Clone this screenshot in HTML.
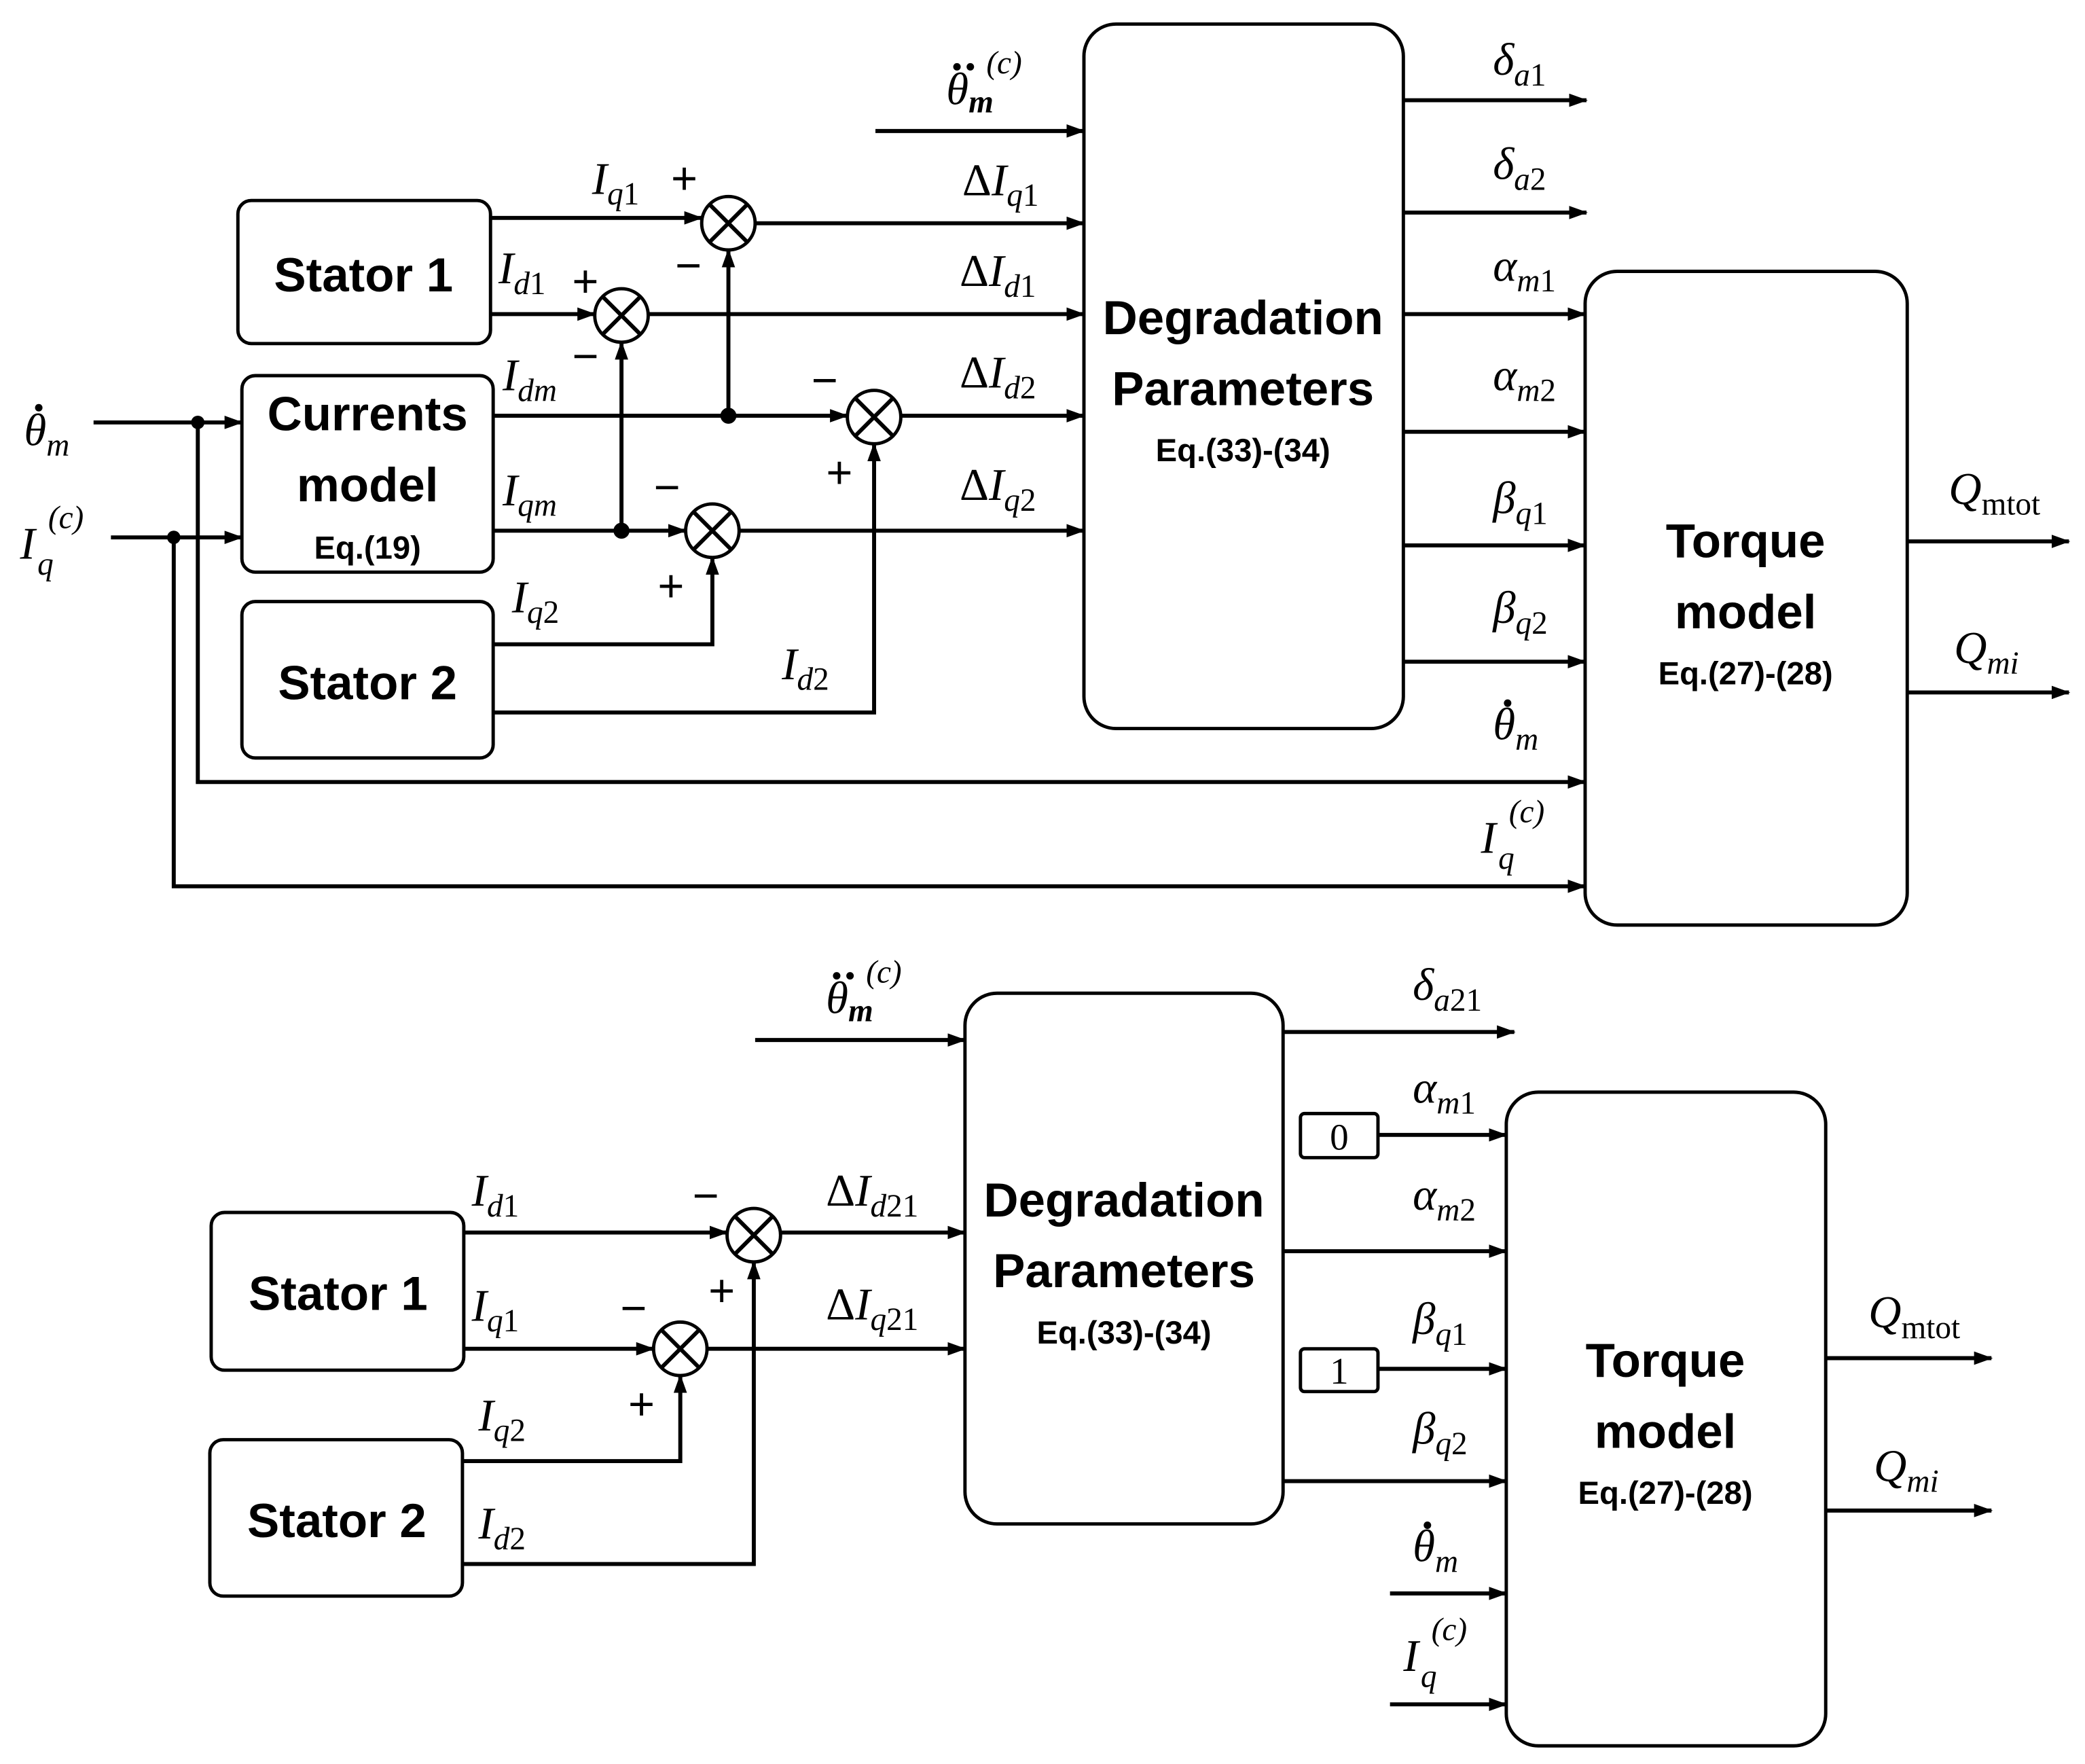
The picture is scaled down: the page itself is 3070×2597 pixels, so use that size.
<!DOCTYPE html>
<html><head><meta charset="utf-8"><style>
html,body{margin:0;padding:0;background:#fff}
svg{display:block}
.m{font-family:"Liberation Serif","DejaVu Serif",serif;font-style:italic;font-size:34px;fill:#000}
.s{font-size:24px}
.u{font-style:normal}
.b{font-family:"Liberation Sans","DejaVu Sans",sans-serif;font-weight:bold;font-size:36px;fill:#000;text-anchor:middle}
.e{font-family:"Liberation Sans","DejaVu Sans",sans-serif;font-weight:bold;font-size:24px;fill:#000;text-anchor:middle}
.g{font-family:"Liberation Sans","DejaVu Sans",sans-serif;font-size:34px;fill:#000;text-anchor:middle}
.n{font-family:"Liberation Serif",serif;font-size:28px;fill:#000;text-anchor:middle}
line,polyline,path{stroke:#000;stroke-width:3;fill:none}
rect{fill:#fff;stroke:#000;stroke-width:2.5}
circle{fill:#fff;stroke:#000;stroke-width:2.5}
circle.d{fill:#000;stroke:none}
</style></head><body>
<svg width="3070" height="2597" viewBox="0 0 1560 1319.6" preserveAspectRatio="none" xmlns="http://www.w3.org/2000/svg">
<defs><marker id="a" markerWidth="14" markerHeight="10" refX="13" refY="5" orient="auto" markerUnits="userSpaceOnUse"><path d="M0,0 L14,5 L0,10 z" style="fill:#000;stroke:none"/></marker></defs>

<!-- TOP -->
<rect x="178" y="150" width="189" height="107" rx="10"/>
<text class="b" x="272" y="218">Stator 1</text>
<rect x="181" y="281" width="188" height="147" rx="10"/>
<text class="b" x="275" y="322">Currents</text>
<text class="b" x="275" y="375">model</text>
<text class="e" x="275" y="418">Eq.(19)</text>
<rect x="181" y="450" width="188" height="117" rx="10"/>
<text class="b" x="275" y="523">Stator 2</text>
<rect x="811" y="18" width="239" height="527" rx="24"/>
<text class="b" x="930" y="250">Degradation</text>
<text class="b" x="930" y="303">Parameters</text>
<text class="e" x="930" y="345">Eq.(33)-(34)</text>
<rect x="1186" y="203" width="241" height="489" rx="24"/>
<text class="b" x="1306" y="417">Torque</text>
<text class="b" x="1306" y="470">model</text>
<text class="e" x="1306" y="512">Eq.(27)-(28)</text>

<line x1="367" y1="163" x2="525" y2="163" marker-end="url(#a)"/>
<line x1="565" y1="167" x2="811" y2="167" marker-end="url(#a)"/>
<line x1="367" y1="235" x2="445" y2="235" marker-end="url(#a)"/>
<line x1="485" y1="235" x2="811" y2="235" marker-end="url(#a)"/>
<line x1="369" y1="311" x2="634" y2="311" marker-end="url(#a)"/>
<line x1="545" y1="311" x2="545" y2="187" marker-end="url(#a)"/>
<line x1="674" y1="311" x2="811" y2="311" marker-end="url(#a)"/>
<line x1="369" y1="397" x2="513" y2="397" marker-end="url(#a)"/>
<line x1="465" y1="397" x2="465" y2="256" marker-end="url(#a)"/>
<line x1="553" y1="397" x2="811" y2="397" marker-end="url(#a)"/>
<polyline points="369,482 533,482 533,417" marker-end="url(#a)"/>
<polyline points="369,533 654,533 654,332" marker-end="url(#a)"/>
<line x1="70" y1="316" x2="181" y2="316" marker-end="url(#a)"/>
<polyline points="148,316 148,585 1186,585" marker-end="url(#a)"/>
<line x1="83" y1="402" x2="181" y2="402" marker-end="url(#a)"/>
<polyline points="130,402 130,663 1186,663" marker-end="url(#a)"/>
<line x1="655" y1="98" x2="811" y2="98" marker-end="url(#a)"/>
<line x1="1050" y1="75" x2="1187" y2="75" marker-end="url(#a)"/>
<line x1="1050" y1="159" x2="1187" y2="159" marker-end="url(#a)"/>
<line x1="1050" y1="235" x2="1186" y2="235" marker-end="url(#a)"/>
<line x1="1050" y1="323" x2="1186" y2="323" marker-end="url(#a)"/>
<line x1="1050" y1="408" x2="1186" y2="408" marker-end="url(#a)"/>
<line x1="1050" y1="495" x2="1186" y2="495" marker-end="url(#a)"/>
<line x1="1427" y1="405" x2="1548" y2="405" marker-end="url(#a)"/>
<line x1="1427" y1="518" x2="1548" y2="518" marker-end="url(#a)"/>
<circle cx="148" cy="316" r="5" class="d"/>
<circle cx="130" cy="402" r="5" class="d"/>
<circle cx="545" cy="311" r="6" class="d"/>
<circle cx="465" cy="397" r="6" class="d"/>

<circle cx="545" cy="167" r="20"/><path d="M531,153 L559,181 M559,153 L531,181"/>
<circle cx="465" cy="236" r="20"/><path d="M451,222 L479,250 M479,222 L451,250"/>
<circle cx="654" cy="312" r="20"/><path d="M640,298 L668,326 M668,298 L640,326"/>
<circle cx="533" cy="397" r="20"/><path d="M519,383 L547,411 M547,383 L519,411"/>
<text class="g" x="512" y="145">+</text><text class="g" x="515" y="210">−</text>
<text class="g" x="438" y="222">+</text><text class="g" x="438" y="278">−</text>
<text class="g" x="617" y="296">−</text><text class="g" x="628" y="365">+</text>
<text class="g" x="499" y="376">−</text><text class="g" x="502" y="450">+</text>

<text class="m" x="443" y="145">I<tspan class="s" dy="8">q<tspan class="u">1</tspan></tspan></text>
<text class="m" x="373" y="212">I<tspan class="s" dy="8">d<tspan class="u">1</tspan></tspan></text>
<text class="m" x="376" y="292">I<tspan class="s" dy="8">dm</tspan></text>
<text class="m" x="376" y="378">I<tspan class="s" dy="8">qm</tspan></text>
<text class="m" x="383" y="458">I<tspan class="s" dy="8">q<tspan class="u">2</tspan></tspan></text>
<text class="m" x="585" y="508">I<tspan class="s" dy="8">d<tspan class="u">2</tspan></tspan></text>
<text class="m" x="720" y="146"><tspan class="u">Δ</tspan>I<tspan class="s" dy="8">q<tspan class="u">1</tspan></tspan></text>
<text class="m" x="718" y="214"><tspan class="u">Δ</tspan>I<tspan class="s" dy="8">d<tspan class="u">1</tspan></tspan></text>
<text class="m" x="718" y="290"><tspan class="u">Δ</tspan>I<tspan class="s" dy="8">d<tspan class="u">2</tspan></tspan></text>
<text class="m" x="718" y="374"><tspan class="u">Δ</tspan>I<tspan class="s" dy="8">q<tspan class="u">2</tspan></tspan></text>
<!-- theta ddot top -->
<text class="m" x="708" y="78">θ<tspan class="s" dy="6" style="font-weight:bold">m</tspan></text>
<circle class="d" cx="716" cy="50" r="2.8"/><circle class="d" cx="726" cy="50" r="2.8"/>
<text class="m s" x="738" y="55">(c)</text>
<text class="m" x="18" y="333">θ<tspan class="s" dy="8">m</tspan></text>
<circle class="d" cx="29" cy="305" r="2.8"/>
<text class="m" x="15" y="418">I</text><text class="m s" x="28" y="430">q</text><text class="m s" x="36" y="395">(c)</text>
<text class="m" x="1117" y="56">δ<tspan class="s" dy="8">a<tspan class="u">1</tspan></tspan></text>
<text class="m" x="1117" y="134">δ<tspan class="s" dy="8">a<tspan class="u">2</tspan></tspan></text>
<text class="m" x="1117" y="210">α<tspan class="s" dy="8">m<tspan class="u">1</tspan></tspan></text>
<text class="m" x="1117" y="292">α<tspan class="s" dy="8">m<tspan class="u">2</tspan></tspan></text>
<text class="m" x="1117" y="384">β<tspan class="s" dy="8">q<tspan class="u">1</tspan></tspan></text>
<text class="m" x="1117" y="466">β<tspan class="s" dy="8">q<tspan class="u">2</tspan></tspan></text>
<text class="m" x="1117" y="553">θ<tspan class="s" dy="8">m</tspan></text>
<circle class="d" cx="1128" cy="526" r="2.8"/>
<text class="m" x="1108" y="638">I</text><text class="m s" x="1121" y="650">q</text><text class="m s" x="1129" y="615">(c)</text>
<text class="m" x="1458" y="377">Q<tspan class="s u" dy="8">mtot</tspan></text>
<text class="m" x="1462" y="496">Q<tspan class="s" dy="8">mi</tspan></text>

<!-- BOTTOM -->
<rect x="158" y="907" width="189" height="118" rx="10"/>
<text class="b" x="253" y="980">Stator 1</text>
<rect x="157" y="1077" width="189" height="117" rx="10"/>
<text class="b" x="252" y="1150">Stator 2</text>
<rect x="722" y="743" width="238" height="397" rx="24"/>
<text class="b" x="841" y="910">Degradation</text>
<text class="b" x="841" y="963">Parameters</text>
<text class="e" x="841" y="1005">Eq.(33)-(34)</text>
<rect x="1127" y="817" width="239" height="489" rx="24"/>
<text class="b" x="1246" y="1030">Torque</text>
<text class="b" x="1246" y="1083">model</text>
<text class="e" x="1246" y="1125">Eq.(27)-(28)</text>

<line x1="347" y1="922" x2="544" y2="922" marker-end="url(#a)"/>
<line x1="584" y1="922" x2="722" y2="922" marker-end="url(#a)"/>
<line x1="347" y1="1009" x2="489" y2="1009" marker-end="url(#a)"/>
<line x1="529" y1="1009" x2="722" y2="1009" marker-end="url(#a)"/>
<polyline points="347,1093 509,1093 509,1029" marker-end="url(#a)"/>
<polyline points="347,1170 564,1170 564,944" marker-end="url(#a)"/>
<line x1="565" y1="778" x2="722" y2="778" marker-end="url(#a)"/>
<line x1="960" y1="772" x2="1133" y2="772" marker-end="url(#a)"/>
<rect x="973" y="833" width="58" height="33" rx="3"/>
<text class="n" x="1002" y="860">0</text>
<line x1="1031" y1="849" x2="1127" y2="849" marker-end="url(#a)"/>
<line x1="960" y1="936" x2="1127" y2="936" marker-end="url(#a)"/>
<rect x="973" y="1009" width="58" height="32" rx="3"/>
<text class="n" x="1002" y="1035">1</text>
<line x1="1031" y1="1024" x2="1127" y2="1024" marker-end="url(#a)"/>
<line x1="960" y1="1108" x2="1127" y2="1108" marker-end="url(#a)"/>
<line x1="1040" y1="1192" x2="1127" y2="1192" marker-end="url(#a)"/>
<line x1="1040" y1="1275" x2="1127" y2="1275" marker-end="url(#a)"/>
<line x1="1366" y1="1016" x2="1490" y2="1016" marker-end="url(#a)"/>
<line x1="1366" y1="1130" x2="1490" y2="1130" marker-end="url(#a)"/>

<circle cx="564" cy="924" r="20"/><path d="M550,910 L578,938 M578,910 L550,938"/>
<circle cx="509" cy="1009" r="20"/><path d="M495,995 L523,1023 M523,995 L495,1023"/>
<text class="g" x="528" y="906">−</text><text class="g" x="540" y="977">+</text>
<text class="g" x="474" y="990">−</text><text class="g" x="480" y="1062">+</text>

<text class="m" x="353" y="902">I<tspan class="s" dy="8">d<tspan class="u">1</tspan></tspan></text>
<text class="m" x="353" y="988">I<tspan class="s" dy="8">q<tspan class="u">1</tspan></tspan></text>
<text class="m" x="358" y="1070">I<tspan class="s" dy="8">q<tspan class="u">2</tspan></tspan></text>
<text class="m" x="358" y="1151">I<tspan class="s" dy="8">d<tspan class="u">2</tspan></tspan></text>
<text class="m" x="618" y="902"><tspan class="u">Δ</tspan>I<tspan class="s" dy="8">d<tspan class="u">21</tspan></tspan></text>
<text class="m" x="618" y="987"><tspan class="u">Δ</tspan>I<tspan class="s" dy="8">q<tspan class="u">21</tspan></tspan></text>
<text class="m" x="618" y="758">θ<tspan class="s" dy="6" style="font-weight:bold">m</tspan></text>
<circle class="d" cx="626" cy="730" r="2.8"/><circle class="d" cx="636" cy="730" r="2.8"/>
<text class="m s" x="648" y="735">(c)</text>
<text class="m" x="1057" y="748">δ<tspan class="s" dy="8">a<tspan class="u">21</tspan></tspan></text>
<text class="m" x="1057" y="825">α<tspan class="s" dy="8">m<tspan class="u">1</tspan></tspan></text>
<text class="m" x="1057" y="905">α<tspan class="s" dy="8">m<tspan class="u">2</tspan></tspan></text>
<text class="m" x="1057" y="998">β<tspan class="s" dy="8">q<tspan class="u">1</tspan></tspan></text>
<text class="m" x="1057" y="1080">β<tspan class="s" dy="8">q<tspan class="u">2</tspan></tspan></text>
<text class="m" x="1057" y="1168">θ<tspan class="s" dy="8">m</tspan></text>
<circle class="d" cx="1068" cy="1141" r="2.8"/>
<text class="m" x="1050" y="1250">I</text><text class="m s" x="1063" y="1262">q</text><text class="m s" x="1071" y="1227">(c)</text>
<text class="m" x="1398" y="993">Q<tspan class="s u" dy="8">mtot</tspan></text>
<text class="m" x="1402" y="1108">Q<tspan class="s" dy="8">mi</tspan></text>
</svg>
</body></html>
